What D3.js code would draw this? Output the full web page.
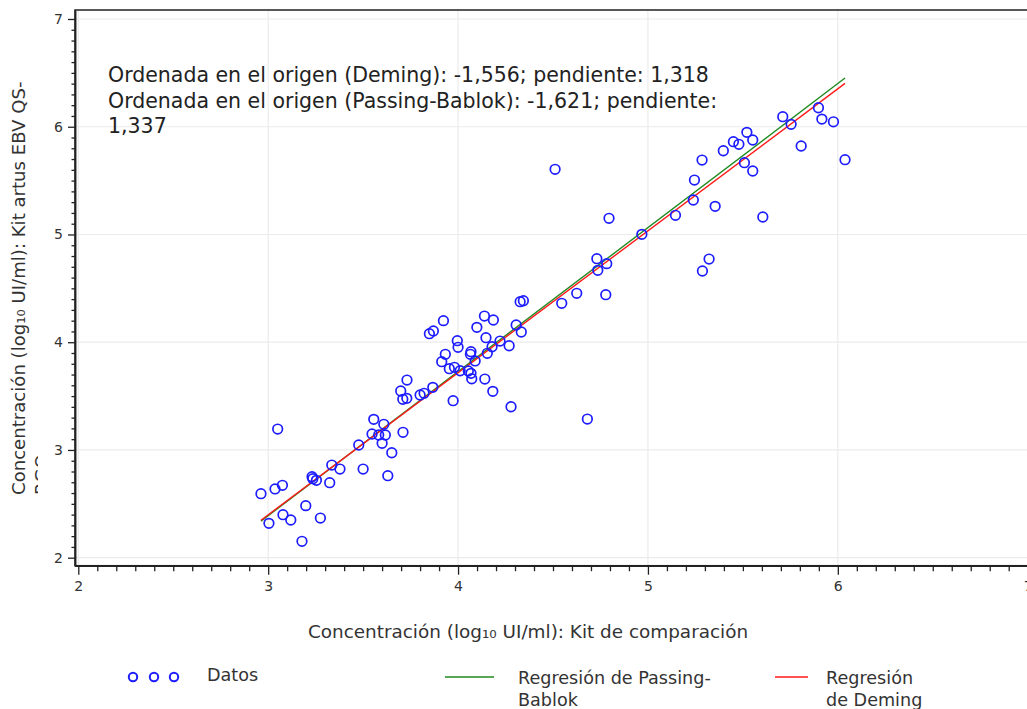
<!DOCTYPE html>
<html>
<head>
<meta charset="utf-8">
<script src="https://cdn.jsdelivr.net/npm/d3@7/dist/d3.min.js"></script>
<style>
body { margin: 0; background: #fff; }
</style>
</head>
<body>
<div id="chart"></div>
<script>
// Kit de comparación (log10 UI/ml)
var compKit = [3.050, 2.962, 3.036, 3.075, 3.004, 3.078, 3.119, 3.178, 3.198, 3.275,
    3.231, 3.235, 3.254, 3.324, 3.335, 3.378, 3.500, 3.477, 3.630, 3.651,
    3.556, 3.609, 3.547, 3.582, 3.617, 3.600, 3.710, 4.327, 4.344, 3.923,
    3.849, 3.870, 4.139, 4.186, 4.099, 4.306, 4.333, 3.996, 4.000, 4.147,
    4.269, 4.221, 4.179, 4.068, 4.065, 3.933, 3.914, 4.090, 4.154, 3.954,
    3.981, 4.011, 4.054, 4.068, 4.072, 4.141, 3.731, 4.183, 3.698, 3.709,
    3.730, 3.800, 3.821, 3.867, 3.974, 4.279, 4.511, 4.795, 4.968, 4.731,
    4.736, 4.783, 4.625, 4.778, 4.546, 4.681, 5.145, 5.239, 5.245, 5.285,
    5.354, 5.287, 5.322, 5.397, 5.450, 5.479, 5.521, 5.552, 5.508, 5.552,
    5.605, 5.710, 5.754, 5.807, 5.898, 5.916, 5.977, 6.038];

// Kit artus EBV QS-RGQ (log10 UI/ml)
var artusKit = [3.194, 2.594, 2.638, 2.672, 2.319, 2.399, 2.350, 2.152, 2.483, 2.368,
    2.752, 2.733, 2.718, 2.696, 2.860, 2.823, 2.823, 3.046, 2.761, 2.974,
    3.284, 3.238, 3.148, 3.139, 3.139, 3.062, 3.164, 4.376, 4.385, 4.200,
    4.079, 4.104, 4.243, 4.206, 4.138, 4.160, 4.095, 4.014, 3.953, 4.042,
    3.967, 4.011, 3.958, 3.912, 3.888, 3.888, 3.819, 3.826, 3.897, 3.754,
    3.767, 3.735, 3.733, 3.711, 3.661, 3.658, 3.649, 3.544, 3.547, 3.470,
    3.479, 3.510, 3.526, 3.581, 3.457, 3.401, 5.605, 5.150, 5.001, 4.775,
    4.667, 4.729, 4.454, 4.441, 4.361, 3.287, 5.178, 5.320, 5.505, 5.691,
    5.261, 4.661, 4.772, 5.777, 5.861, 5.837, 5.948, 5.877, 5.666, 5.589,
    5.162, 6.093, 6.022, 5.821, 6.176, 6.071, 6.046, 5.694];

// [ordenada, pendiente]
var demingFit = [-1.556, 1.318];
var passingFit = [-1.621, 1.337];

var majorTicks = [2, 3, 4, 5, 6, 7];
var minorTicks = d3.range(20, 71).map(function(v) { return v / 10; })
    .filter(function(v) { return v % 1 !== 0; });

var annotationLines = [
    'Ordenada en el origen (Deming): -1,556; pendiente: 1,318',
    'Ordenada en el origen (Passing-Bablok): -1,621; pendiente:',
    '1,337'
];
var xTitle = 'Concentración (log₁₀ UI/ml): Kit de comparación';
var yTitle = ['Concentración (log₁₀ UI/ml): Kit artus EBV QS-', 'RGQ'];

var font = '"DejaVu Sans", Verdana, sans-serif';

//Dimension and Margin
var margin = { top: 10, left: 75 },
    width = 956,
    height = 555.7;

var root = d3.select('#chart')
    .append('svg')
    .attr('width', 1027)
    .attr('height', 709)
    .style('display', 'block');

var svg = root.append('g')
    .attr('transform', 'translate(' + margin.left + ',' + margin.top + ')');

var xScale = d3.scaleLinear()
    .domain([1.9826, 7.0174])
    .range([0, width]);

var yScale = d3.scaleLinear()
    .domain([1.9257, 7.0835])
    .range([height, 0]);

//Grid
svg.append('g')
    .selectAll('line')
    .data(majorTicks)
    .enter().append('line')
    .attr('x1', function(d) { return xScale(d); })
    .attr('x2', function(d) { return xScale(d); })
    .attr('y1', 0)
    .attr('y2', height)
    .attr('stroke', '#ebebeb')
    .attr('stroke-width', 1.2);
svg.append('g')
    .selectAll('line')
    .data(majorTicks)
    .enter().append('line')
    .attr('x1', 0)
    .attr('x2', width)
    .attr('y1', function(d) { return yScale(d); })
    .attr('y2', function(d) { return yScale(d); })
    .attr('stroke', '#ebebeb')
    .attr('stroke-width', 1.2);

//Frame
svg.append('rect')
    .attr('width', width)
    .attr('height', height)
    .attr('fill', 'none')
    .attr('stroke', '#222')
    .attr('stroke-width', 1.5);

//X-Axis
svg.append('g')
    .attr('transform', 'translate(0,' + height + ')')
    .call(d3.axisBottom(xScale).tickValues(majorTicks).tickSize(9).tickSizeOuter(0).tickPadding(6).tickFormat(d3.format('d')));
svg.append('g')
    .attr('transform', 'translate(0,' + height + ')')
    .call(d3.axisBottom(xScale).tickValues(minorTicks).tickSize(5.5).tickSizeOuter(0).tickFormat(''));

//Y-Axis
svg.append('g')
    .call(d3.axisLeft(yScale).tickValues(majorTicks).tickSize(7).tickSizeOuter(0).tickPadding(5).tickFormat(d3.format('d')));
svg.append('g')
    .call(d3.axisLeft(yScale).tickValues(minorTicks).tickSize(3.5).tickSizeOuter(0).tickFormat(''));

svg.selectAll('.domain').attr('stroke', '#222').attr('stroke-width', 1.5);
svg.selectAll('.tick line').attr('stroke', '#222').attr('stroke-width', 1.3);
svg.selectAll('.tick text')
    .attr('font-family', font)
    .attr('font-size', 14)
    .attr('fill', '#333');

//Regression lines
var xRange = d3.extent(compKit);
var line = d3.line()
    .x(function(d) { return xScale(d[0]); })
    .y(function(d) { return yScale(d[1]); });

function fitPoints(fit) {
    return xRange.map(function(x) { return [x, fit[0] + fit[1] * x]; });
}

svg.append('path')
    .attr('d', line(fitPoints(passingFit)))
    .attr('fill', 'none')
    .attr('stroke', '#1f8a1f')
    .attr('stroke-width', 1.4);
svg.append('path')
    .attr('d', line(fitPoints(demingFit)))
    .attr('fill', 'none')
    .attr('stroke', '#ff1a1a')
    .attr('stroke-width', 1.4);

//Points
var points = compKit.map(function(x, i) { return { x: x, y: artusKit[i] }; });
svg.selectAll('circle.dato')
    .data(points)
    .enter().append('circle')
    .attr('class', 'dato')
    .attr('cx', function(d) { return xScale(d.x); })
    .attr('cy', function(d) { return yScale(d.y); })
    .attr('r', 4.8)
    .attr('fill', 'none')
    .attr('stroke', '#1c1cff')
    .attr('stroke-width', 1.7);

//Annotation
svg.append('g')
    .selectAll('text')
    .data(annotationLines)
    .enter().append('text')
    .attr('x', 33)
    .attr('y', function(d, i) { return 71.7 + i * 25.8; })
    .attr('font-family', font)
    .attr('font-size', 20.5)
    .attr('fill', '#222')
    .text(function(d) { return d; });

//Axis titles
root.append('text')
    .attr('x', 528)
    .attr('y', 638)
    .attr('text-anchor', 'middle')
    .attr('font-family', font)
    .attr('font-size', 18.4)
    .attr('fill', '#333')
    .text(xTitle);

root.append('clipPath')
    .attr('id', 'yclip')
    .append('rect')
    .attr('x', 0)
    .attr('y', 0)
    .attr('width', 38)
    .attr('height', 709);

root.append('g')
    .attr('clip-path', 'url(#yclip)')
    .selectAll('text')
    .data(yTitle)
    .enter().append('text')
    .attr('transform', function(d, i) { return 'translate(' + (25 + i * 23) + ',495) rotate(-90)'; })
    .attr('font-family', font)
    .attr('font-size', 18.1)
    .attr('fill', '#333')
    .text(function(d) { return d; });

// Legend
var legend = root.append('g')
    .attr('font-family', font)
    .attr('font-size', 17.6)
    .attr('fill', '#333');

legend.selectAll('circle')
    .data([133, 154, 174])
    .enter().append('circle')
    .attr('cx', function(d) { return d; })
    .attr('cy', 677)
    .attr('r', 4.2)
    .attr('fill', 'none')
    .attr('stroke', '#1c1cff')
    .attr('stroke-width', 2);
legend.append('text').attr('x', 207).attr('y', 681).text('Datos');

legend.append('line')
    .attr('x1', 445).attr('x2', 494).attr('y1', 677).attr('y2', 677)
    .attr('stroke', '#1f8a1f').attr('stroke-width', 1.6);
legend.append('text').attr('x', 518).attr('y', 684).text('Regresión de Passing-');
legend.append('text').attr('x', 518).attr('y', 706).text('Bablok');

legend.append('line')
    .attr('x1', 775).attr('x2', 808).attr('y1', 677).attr('y2', 677)
    .attr('stroke', '#ff1a1a').attr('stroke-width', 1.6);
legend.append('text').attr('x', 826).attr('y', 684).text('Regresión');
legend.append('text').attr('x', 826).attr('y', 706).text('de Deming');
</script>
</body>
</html>
